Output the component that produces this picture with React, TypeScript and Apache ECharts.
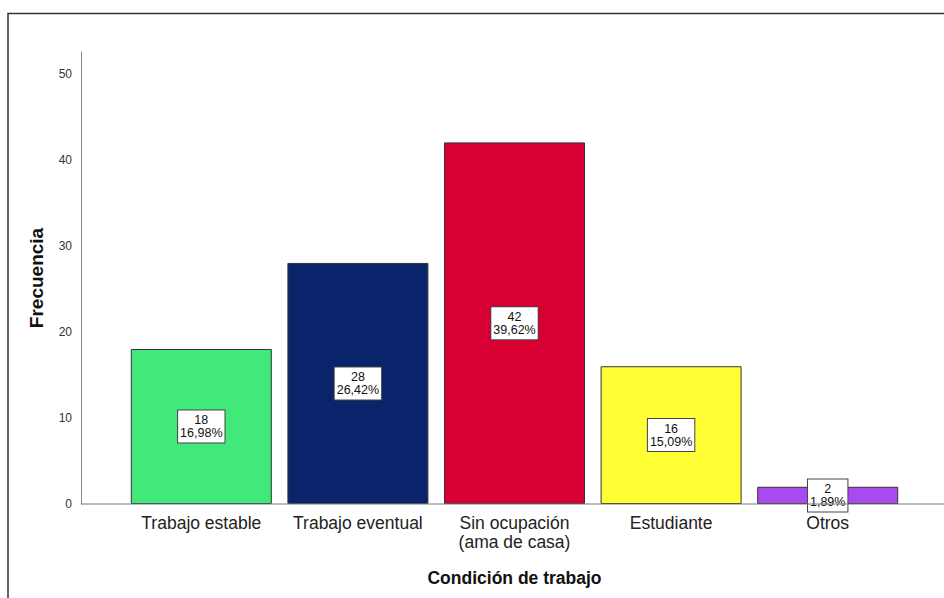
import React, { useEffect, useRef } from "react";
import * as echarts from "echarts";

const categories = ["Trabajo estable", "Trabajo eventual", "Sin ocupación\n(ama de casa)", "Estudiante", "Otros"];
const counts = [18, 28, 42, 16, 2];
const percents = ["16,98%", "26,42%", "39,62%", "15,09%", "1,89%"];
const colors = ["#40E97A", "#0A246C", "#D80032", "#FFFF33", "#A94AF0"];
const yTicks = [0, 10, 20, 30, 40, 50];

export default function App() {
  const ref = useRef<HTMLDivElement>(null);
  useEffect(() => {
    if (!ref.current) return;
    const chart = echarts.init(ref.current, null, { renderer: "svg" });
    const font = "Liberation Sans, Arial, sans-serif";
    chart.setOption({
      animation: false,
      backgroundColor: "#ffffff",
      grid: { left: 123, right: 38, top: 52, bottom: 94, containLabel: false },
      xAxis: {
        type: "category",
        data: categories,
        axisLine: { show: false },
        axisTick: { show: false },
        axisLabel: {
          color: "#222",
          fontSize: 17.5,
          fontFamily: font,
          lineHeight: 19,
          margin: 9,
          interval: 0,
        },
        name: "Condición de trabajo",
        nameLocation: "middle",
        nameGap: 65,
        nameTextStyle: { fontSize: 17.5, fontWeight: "bold", color: "#111", fontFamily: font },
      },
      yAxis: {
        type: "value",
        min: 0,
        max: 52.5,
        interval: 10,
        offset: 42,
        splitLine: { show: false },
        axisTick: { show: false },
        axisLine: { show: true, lineStyle: { color: "#888", width: 1 } },
        axisLabel: {
          color: "#333",
          fontSize: 12,
          fontFamily: font,
          margin: 9,
          showMaxLabel: false,
          formatter: (v: number) => (yTicks.includes(v) ? String(v) : ""),
        },
        name: "Frecuencia",
        nameLocation: "middle",
        nameGap: 35,
        nameTextStyle: { fontSize: 19, fontWeight: "bold", color: "#111", fontFamily: font },
      },
      series: [
        {
          type: "bar",
          barWidth: 141,
          data: counts.map((v, i) => ({
            value: v,
            itemStyle: { color: colors[i], borderColor: "#333", borderWidth: 1 },
          })),
          label: {
            show: true,
            position: "inside",
            formatter: (p: any) => `${counts[p.dataIndex]}\n${percents[p.dataIndex]}`,
            color: "#111",
            fontSize: 12.5,
            fontFamily: font,
            lineHeight: 13,
            backgroundColor: "#ffffff",
            borderColor: "#444",
            borderWidth: 1,
            padding: [3, 2, 3, 2],
            align: "center",
          },
        },
      ],
      graphic: [
        {
          type: "line",
          shape: { x1: 81, y1: 504, x2: 944, y2: 504 },
          style: { stroke: "#777", lineWidth: 1 },
          z: 10,
        },
        {
          type: "polyline",
          shape: { points: [[8, 600], [8, 13.5], [944, 13.5]] },
          style: { stroke: "#333", lineWidth: 1.5, fill: null },
        },
      ],
    });
    return () => chart.dispose();
  }, []);
  return (
    <div
      ref={ref}
      style={{ position: "fixed", left: 0, top: 0, width: 944, height: 598 }}
    />
  );
}
